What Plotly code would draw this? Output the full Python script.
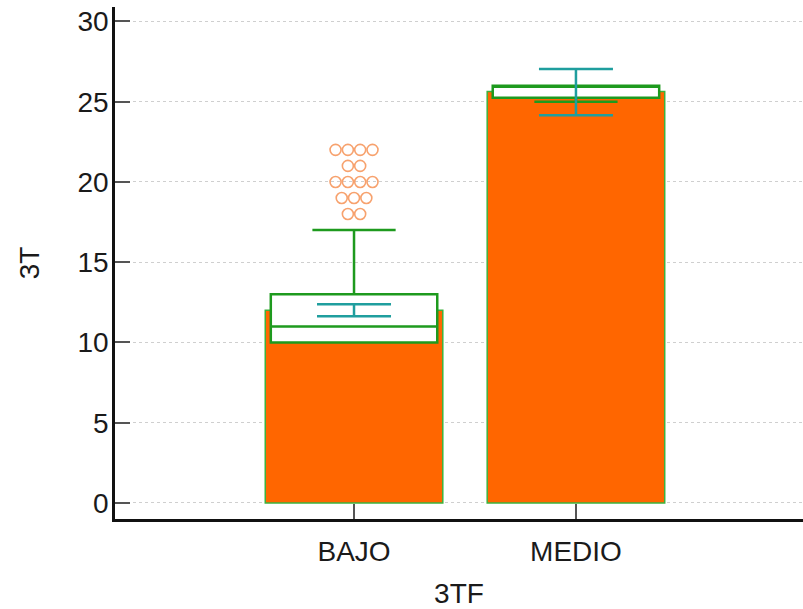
import plotly.graph_objects as go

# Groups of the factor 3TF
categories = ["BAJO", "MEDIO"]
positions = [0, 1]

# Mean of 3T per group (bar height) and its confidence interval
means = [12.0, 25.64]
ci_low = [11.64, 24.16]
ci_high = [12.38, 27.04]

# Box-plot summary per group
q1 = [10.0, 25.25]
medians = [11.0, 26.0]
q3 = [13.0, 26.0]
lower_fence = [10.0, 25.0]
upper_fence = [17.0, 26.0]

# Outlying observations in BAJO: value -> number of cases
outlier_values = [22, 21, 20, 19, 18]
outlier_counts = [4, 2, 4, 3, 2]

ORANGE = "#FF6600"
GREEN = "#1E9A1E"
TEAL = "#1F9E9E"
OUTLIER = "#F7A26E"
FONT = "Liberation Sans, Arial, sans-serif"

fig = go.Figure()

fig.add_trace(go.Bar(
    x=positions, y=means, width=0.8,
    marker=dict(color=ORANGE, line=dict(color="#3DB23D", width=1.5)),
    showlegend=False, hoverinfo="skip",
))

fig.add_trace(go.Box(
    x=positions, q1=q1, median=medians, q3=q3,
    lowerfence=lower_fence, upperfence=upper_fence,
    width=0.75, whiskerwidth=0.5,
    fillcolor="white", line=dict(color=GREEN, width=2.5),
    boxpoints=False, showlegend=False, hoverinfo="skip",
))

fig.add_trace(go.Scatter(
    x=positions, y=means, mode="markers",
    marker=dict(size=0.1, color="rgba(0,0,0,0)"),
    error_y=dict(
        type="data", symmetric=False,
        array=[h - m for h, m in zip(ci_high, means)],
        arrayminus=[m - l for m, l in zip(means, ci_low)],
        color=TEAL, thickness=2.5, width=37,
    ),
    showlegend=False, hoverinfo="skip",
))

# Stack equal outliers side by side, centred on the BAJO position
spacing = 0.0555
ox, oy = [], []
for v, n in zip(outlier_values, outlier_counts):
    for i in range(n):
        ox.append(positions[0] + (i - (n - 1) / 2) * spacing)
        oy.append(v)
fig.add_trace(go.Scatter(
    x=ox, y=oy, mode="markers",
    marker=dict(symbol="circle-open", size=11, color=OUTLIER,
                line=dict(width=1.6, color=OUTLIER)),
    showlegend=False, hoverinfo="skip",
))

fig.update_layout(
    width=803, height=609,
    margin=dict(l=115, r=0, t=7, b=90),
    paper_bgcolor="white", plot_bgcolor="white",
    font=dict(family=FONT, size=28, color="#1a1a1a"),
    bargap=0.2,
)

fig.update_xaxes(
    range=[-1.077, 2.023],
    tickmode="array", tickvals=positions, ticktext=categories,
    ticks="inside", ticklen=15, tickcolor="#555555", tickwidth=1.5,
    showline=True, linecolor="#111111", linewidth=2.5,
    showgrid=False, zeroline=False,
    ticklabelstandoff=6, automargin=False,
    title=dict(text="3TF", standoff=27, font=dict(size=28)),
)

fig.update_yaxes(
    range=[-1.0, 30.9],
    tickmode="array", tickvals=[0, 5, 10, 15, 20, 25, 30],
    ticks="inside", ticklen=15, tickcolor="#555555", tickwidth=1.5,
    showline=True, linecolor="#111111", linewidth=2.5,
    showgrid=True, gridcolor="#cfcfcf", gridwidth=1, griddash="dot",
    zeroline=False,
    ticklabelstandoff=-2, automargin=False,
    title=dict(text="3T", standoff=30, font=dict(size=28)),
)

fig.write_html("out.html")
